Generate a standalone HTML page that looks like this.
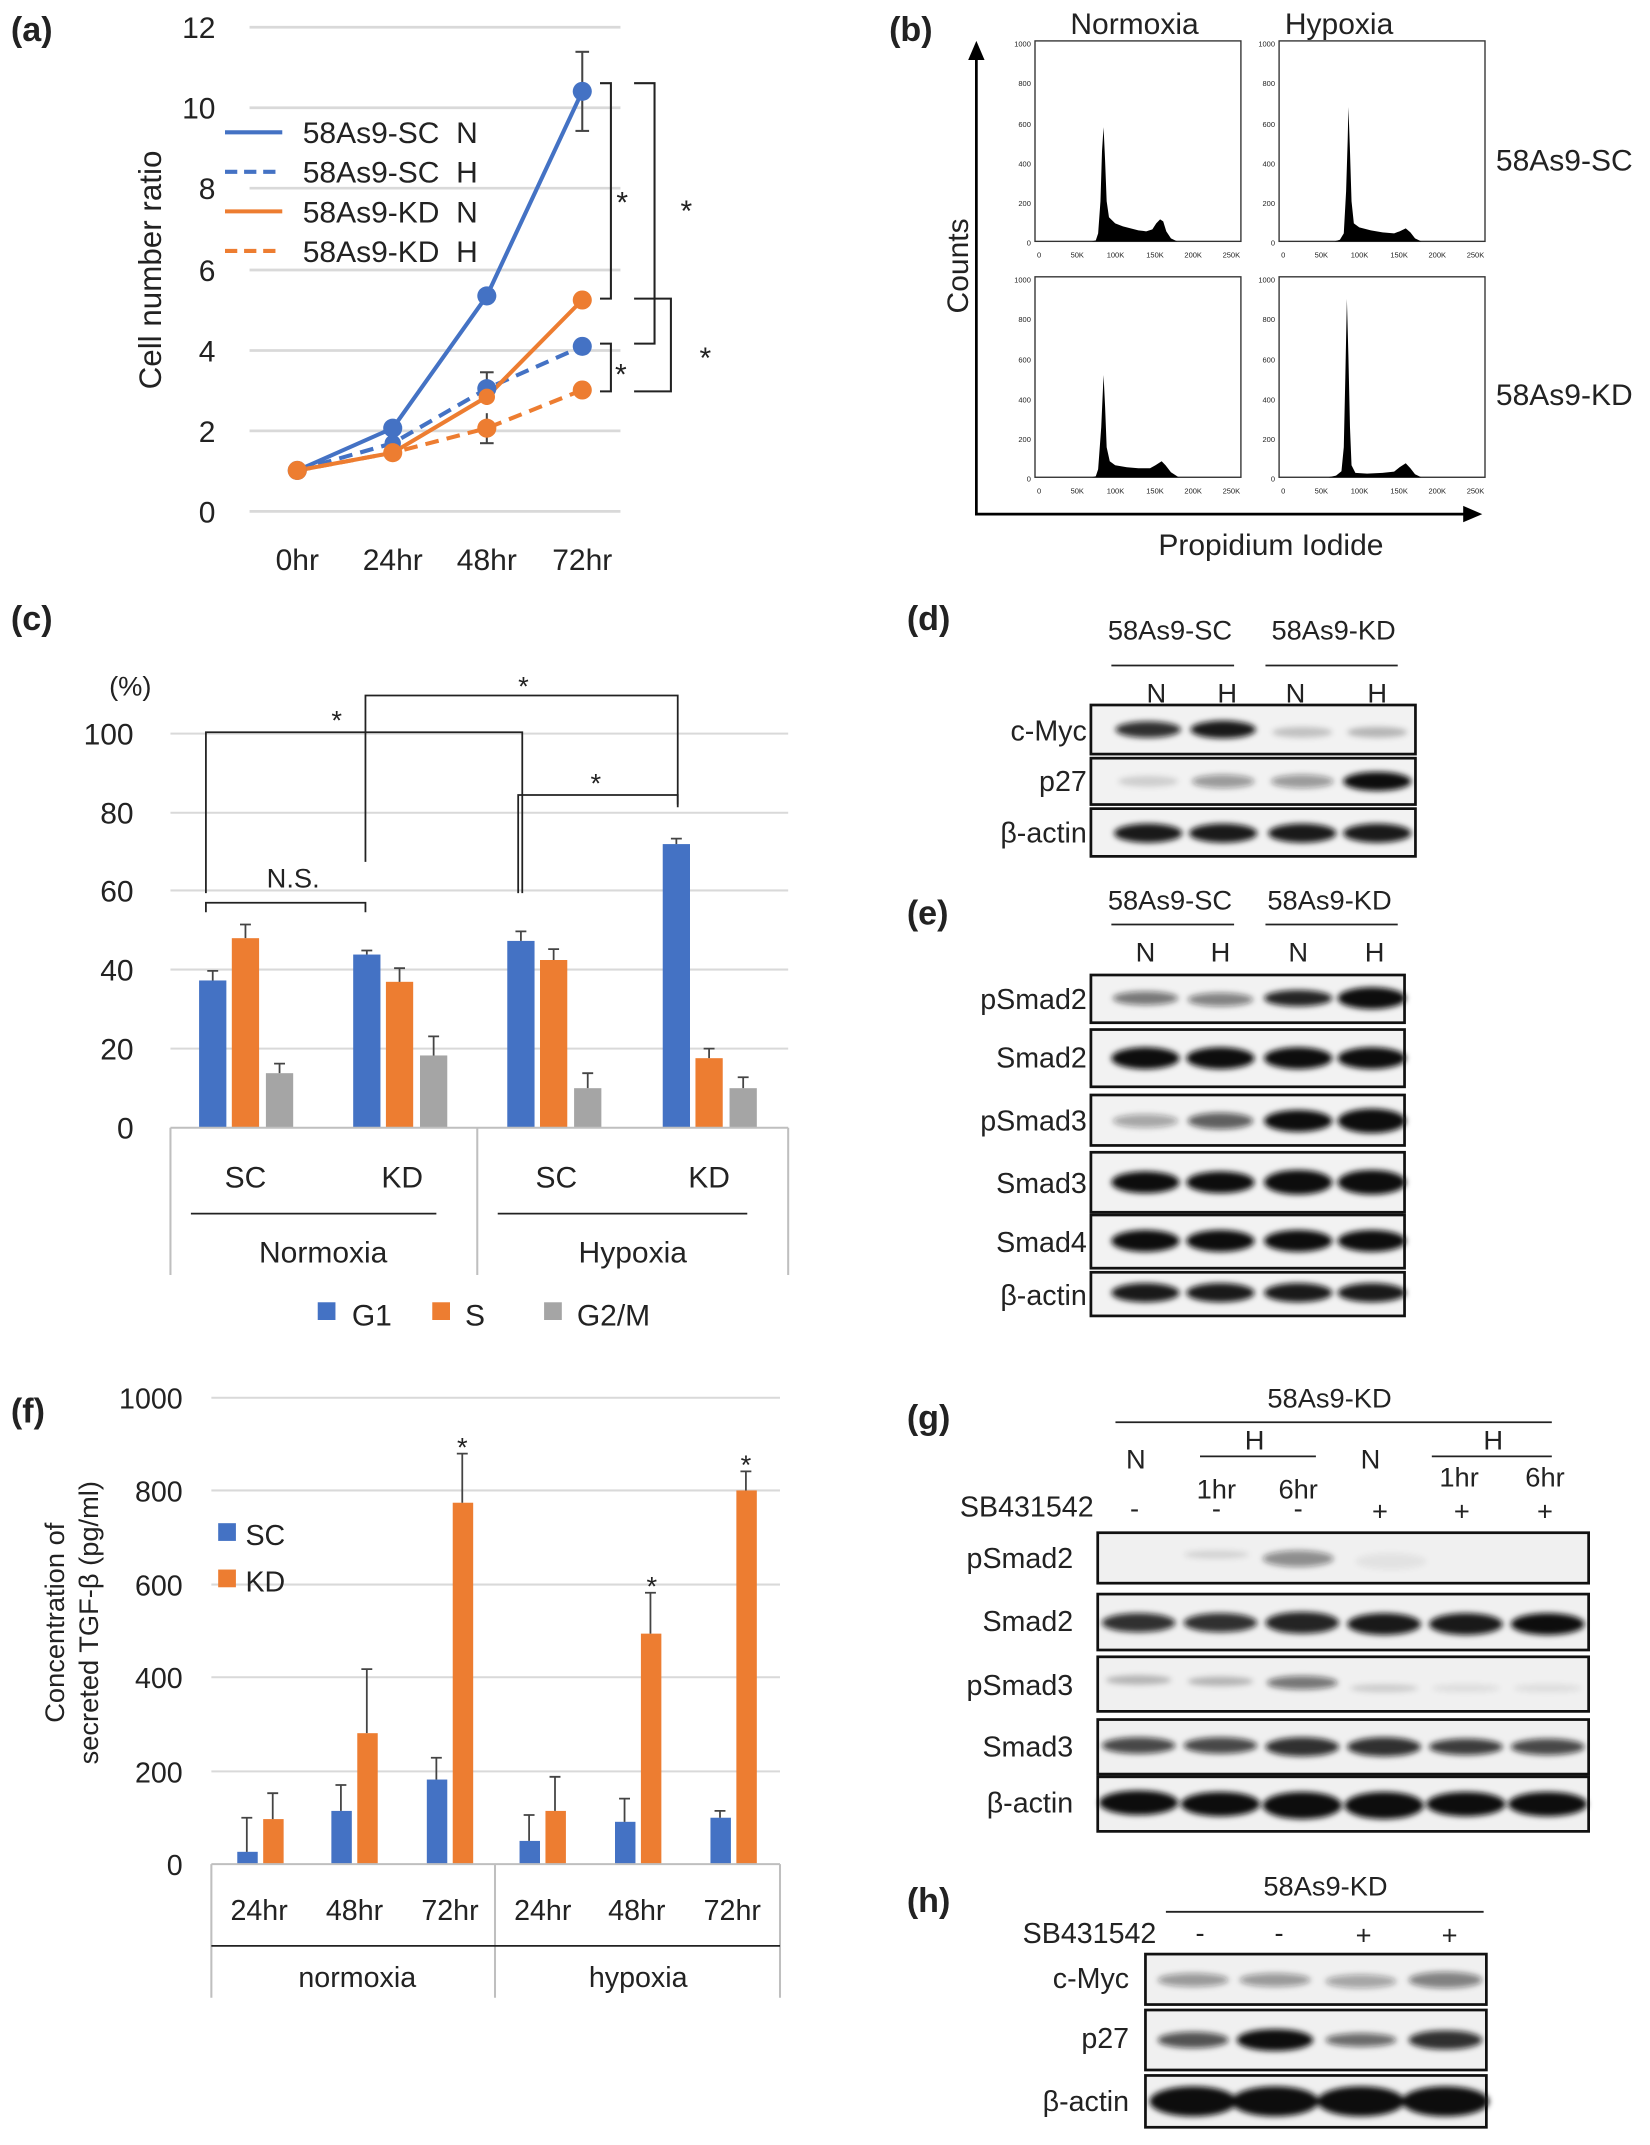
<!DOCTYPE html>
<html><head><meta charset="utf-8"><style>
html,body{margin:0;padding:0;background:#fff}
svg{display:block}
text{font-family:"Liberation Sans",sans-serif;fill:#222}
</style></head><body>
<svg width="1650" height="2145" viewBox="0 0 1210 1573" xmlns="http://www.w3.org/2000/svg">
<defs>
<filter id="bl" x="-20%" y="-50%" width="140%" height="200%"><feGaussianBlur stdDeviation="2.2"/></filter>
<path id="hSN" d="M70,0 L75,5 L78,40 L81,200 L83,450 L85,570 L87,400 L89,200 L92,120 L100,90 L110,75 L120,65 L130,55 L140,50 L148,60 L153,90 L158,110 L162,100 L166,50 L172,15 L180,0 Z"/>
<path id="hSH" d="M68,0 L75,8 L80,40 L83,250 L85,500 L86,670 L88,450 L90,200 L93,90 L100,70 L115,55 L130,45 L145,40 L152,50 L160,65 L166,45 L172,15 L180,0 Z"/>
<path id="hKN" d="M70,0 L75,5 L78,40 L82,250 L85,510 L87,350 L89,150 L93,80 L100,60 L115,50 L130,45 L145,45 L152,60 L160,80 L165,60 L172,25 L182,0 Z"/>
<path id="hKH" d="M60,0 L70,8 L77,30 L80,150 L82,500 L84,890 L86,600 L88,250 L90,60 L95,22 L110,18 L130,22 L145,28 L152,50 L160,70 L166,45 L172,15 L180,0 Z"/>
</defs>

<!-- ===== (a) ===== -->
<text x="8" y="30" font-size="25" font-weight="bold">(a)</text>
<g stroke="#d9d9d9" stroke-width="2">
<line x1="183" y1="20" x2="455" y2="20"/><line x1="183" y1="79" x2="455" y2="79"/><line x1="183" y1="138" x2="455" y2="138"/><line x1="183" y1="198" x2="455" y2="198"/><line x1="183" y1="257" x2="455" y2="257"/><line x1="183" y1="316" x2="455" y2="316"/><line x1="183" y1="375" x2="455" y2="375"/>
</g>
<g font-size="22" text-anchor="end">
<text x="158" y="28">12</text><text x="158" y="87">10</text><text x="158" y="146">8</text><text x="158" y="206">6</text><text x="158" y="265">4</text><text x="158" y="324">2</text><text x="158" y="383">0</text>
</g>
<g font-size="22" text-anchor="middle">
<text x="218" y="418">0hr</text><text x="288" y="418">24hr</text><text x="357" y="418">48hr</text><text x="427" y="418">72hr</text>
</g>
<text transform="translate(118,198) rotate(-90)" font-size="23" text-anchor="middle">Cell number ratio</text>
<g stroke-width="3" fill="none">
<polyline stroke="#4472c4" points="218,345 288,314 357,217 427,67"/>
<polyline stroke="#4472c4" stroke-dasharray="10,6" points="218,345 288,325 357,285 427,254"/>
<polyline stroke="#ed7d31" points="218,345 288,332 357,291 427,220"/>
<polyline stroke="#ed7d31" stroke-dasharray="10,6" points="218,345 288,332 357,314 427,286"/>
</g>
<g stroke="#444" stroke-width="1.5">
<line x1="427" y1="38" x2="427" y2="96"/><line x1="422" y1="38" x2="432" y2="38"/><line x1="422" y1="96" x2="432" y2="96"/>
<line x1="357" y1="273" x2="357" y2="297"/><line x1="352" y1="273" x2="362" y2="273"/>
<line x1="357" y1="303" x2="357" y2="325"/><line x1="352" y1="325" x2="362" y2="325"/>
<line x1="218" y1="340" x2="218" y2="351"/>
</g>
<g fill="#4472c4"><circle cx="218" cy="345" r="7"/><circle cx="288" cy="314" r="7"/><circle cx="357" cy="217" r="7"/><circle cx="427" cy="67" r="7"/><circle cx="288" cy="325" r="6"/><circle cx="357" cy="285" r="7"/><circle cx="427" cy="254" r="7"/></g>
<g fill="#ed7d31"><circle cx="288" cy="332" r="7"/><circle cx="357" cy="291" r="6"/><circle cx="427" cy="220" r="7"/><circle cx="357" cy="314" r="7"/><circle cx="427" cy="286" r="7"/><circle cx="218" cy="345" r="7"/></g>
<g stroke-width="3">
<line x1="165" y1="97" x2="207" y2="97" stroke="#4472c4"/>
<line x1="165" y1="126" x2="207" y2="126" stroke="#4472c4" stroke-dasharray="9,5"/>
<line x1="165" y1="155" x2="207" y2="155" stroke="#ed7d31"/>
<line x1="165" y1="184" x2="207" y2="184" stroke="#ed7d31" stroke-dasharray="9,5"/>
</g>
<g font-size="22"><text x="222" y="105">58As9-SC&#160;&#160;N</text><text x="222" y="134">58As9-SC&#160;&#160;H</text><text x="222" y="163">58As9-KD&#160;&#160;N</text><text x="222" y="192">58As9-KD&#160;&#160;H</text></g>
<g stroke="#222" stroke-width="1.5" fill="none">
<polyline points="440,61 448,61 448,219 440,219"/>
<polyline points="465,61 480,61 480,252 465,252"/>
<polyline points="440,252 448,252 448,287 440,287"/>
<polyline points="465,219 492,219 492,287 465,287"/>
</g>
<g font-size="22"><text x="452" y="156">*</text><text x="499" y="162">*</text><text x="451" y="282">*</text><text x="513" y="270">*</text></g>

<!-- ===== (b) ===== -->
<text x="652" y="30" font-size="25" font-weight="bold">(b)</text>
<text x="832" y="25" font-size="22" text-anchor="middle">Normoxia</text>
<text x="982" y="25" font-size="22" text-anchor="middle">Hypoxia</text>
<text x="1097" y="125" font-size="22">58As9-SC</text>
<text x="1097" y="297" font-size="22">58As9-KD</text>
<text x="932" y="407" font-size="22" text-anchor="middle">Propidium Iodide</text>
<text transform="translate(710,195) rotate(-90)" font-size="22" text-anchor="middle">Counts</text>
<g stroke="#000" stroke-width="2"><line x1="716" y1="378" x2="716" y2="42"/><line x1="716" y1="377" x2="1075" y2="377"/></g>
<polygon points="716,30 710,44 722,44" fill="#000"/><polygon points="1087,377 1073,371 1073,383" fill="#000"/>
<g fill="none" stroke="#333" stroke-width="1">
<rect x="759" y="30" width="151" height="147"/><rect x="938" y="30" width="151" height="147"/>
<rect x="759" y="203" width="151" height="147"/><rect x="938" y="203" width="151" height="147"/>
</g>
<use href="#hSN" transform="translate(761,177) scale(0.568,-0.147)"/>
<use href="#hSH" transform="translate(940,177) scale(0.568,-0.147)"/>
<use href="#hKN" transform="translate(761,350) scale(0.568,-0.147)"/>
<use href="#hKH" transform="translate(940,350) scale(0.568,-0.147)"/>
<g font-size="5.5" text-anchor="end" fill="#333">
<text x="756" y="34">1000</text><text x="756" y="63">800</text><text x="756" y="93">600</text><text x="756" y="122">400</text><text x="756" y="151">200</text><text x="756" y="180">0</text>
<text x="935" y="34">1000</text><text x="935" y="63">800</text><text x="935" y="93">600</text><text x="935" y="122">400</text><text x="935" y="151">200</text><text x="935" y="180">0</text>
<text x="756" y="207">1000</text><text x="756" y="236">800</text><text x="756" y="266">600</text><text x="756" y="295">400</text><text x="756" y="324">200</text><text x="756" y="353">0</text>
<text x="935" y="207">1000</text><text x="935" y="236">800</text><text x="935" y="266">600</text><text x="935" y="295">400</text><text x="935" y="324">200</text><text x="935" y="353">0</text>
</g>
<g font-size="5.5" text-anchor="middle" fill="#333">
<text x="762" y="189">0</text><text x="790" y="189">50K</text><text x="818" y="189">100K</text><text x="847" y="189">150K</text><text x="875" y="189">200K</text><text x="903" y="189">250K</text>
<text x="941" y="189">0</text><text x="969" y="189">50K</text><text x="997" y="189">100K</text><text x="1026" y="189">150K</text><text x="1054" y="189">200K</text><text x="1082" y="189">250K</text>
<text x="762" y="362">0</text><text x="790" y="362">50K</text><text x="818" y="362">100K</text><text x="847" y="362">150K</text><text x="875" y="362">200K</text><text x="903" y="362">250K</text>
<text x="941" y="362">0</text><text x="969" y="362">50K</text><text x="997" y="362">100K</text><text x="1026" y="362">150K</text><text x="1054" y="362">200K</text><text x="1082" y="362">250K</text>
</g>

<!-- ===== (c) ===== -->
<text x="8" y="462" font-size="25" font-weight="bold">(c)</text>
<text x="80" y="510" font-size="20">(%)</text>
<g stroke="#d9d9d9" stroke-width="1.5">
<line x1="125" y1="538" x2="578" y2="538"/><line x1="125" y1="596" x2="578" y2="596"/><line x1="125" y1="653" x2="578" y2="653"/><line x1="125" y1="711" x2="578" y2="711"/><line x1="125" y1="769" x2="578" y2="769"/>
</g>
<g font-size="22" text-anchor="end">
<text x="98" y="546">100</text><text x="98" y="604">80</text><text x="98" y="661">60</text><text x="98" y="719">40</text><text x="98" y="777">20</text><text x="98" y="835">0</text>
</g>
<g fill="#4472c4">
<rect x="146" y="719" width="20" height="108"/><rect x="259" y="700" width="20" height="127"/><rect x="372" y="690" width="20" height="137"/><rect x="486" y="619" width="20" height="208"/>
</g>
<g fill="#ed7d31">
<rect x="170" y="688" width="20" height="139"/><rect x="283" y="720" width="20" height="107"/><rect x="396" y="704" width="20" height="123"/><rect x="510" y="776" width="20" height="51"/>
</g>
<g fill="#a5a5a5">
<rect x="195" y="787" width="20" height="40"/><rect x="308" y="774" width="20" height="53"/><rect x="421" y="798" width="20" height="29"/><rect x="535" y="798" width="20" height="29"/>
</g>
<g stroke="#444" stroke-width="1.3">
<path d="M156,719V712M152,712H160 M180,688V678M176,678H184 M205,787V780M201,780H209 M269,700V697M265,697H273 M293,720V710M289,710H297 M318,774V760M314,760H322 M382,690V683M378,683H386 M406,704V696M402,696H410 M431,798V787M427,787H435 M496,619V615M492,615H500 M520,776V769M516,769H524 M545,798V790M541,790H549"/>
</g>
<line x1="125" y1="827" x2="578" y2="827" stroke="#bfbfbf" stroke-width="1.5"/>
<g stroke="#bfbfbf" stroke-width="1.5"><line x1="125" y1="827" x2="125" y2="935"/><line x1="350" y1="827" x2="350" y2="935"/><line x1="578" y1="827" x2="578" y2="935"/></g>
<g stroke="#222" stroke-width="1.3"><line x1="140" y1="890" x2="320" y2="890"/><line x1="365" y1="890" x2="548" y2="890"/></g>
<g font-size="22" text-anchor="middle">
<text x="180" y="871">SC</text><text x="295" y="871">KD</text><text x="408" y="871">SC</text><text x="520" y="871">KD</text>
<text x="237" y="926">Normoxia</text><text x="464" y="926">Hypoxia</text>
</g>
<rect x="233" y="955" width="13" height="13" fill="#4472c4"/><text x="258" y="972" font-size="22">G1</text>
<rect x="317" y="955" width="13" height="13" fill="#ed7d31"/><text x="341" y="972" font-size="22">S</text>
<rect x="399" y="955" width="13" height="13" fill="#a5a5a5"/><text x="423" y="972" font-size="22">G2/M</text>
<g stroke="#222" stroke-width="1.3" fill="none">
<polyline points="151,669 151,662 268,662 268,669"/>
<polyline points="151,655 151,537 383,537 383,655"/>
<polyline points="268,632 268,510 497,510 497,590"/>
<polyline points="380,655 380,583 497,583 497,592"/>
</g>
<text x="215" y="651" font-size="20" text-anchor="middle">N.S.</text>
<g font-size="20"><text x="243" y="535">*</text><text x="380" y="510">*</text><text x="433" y="581">*</text></g>

<!-- ===== (d) ===== -->
<text x="665" y="462" font-size="25" font-weight="bold">(d)</text>
<g font-size="20" text-anchor="middle"><text x="858" y="469">58As9-SC</text><text x="978" y="469">58As9-KD</text>
<text x="848" y="515">N</text><text x="900" y="515">H</text><text x="950" y="515">N</text><text x="1010" y="515">H</text></g>
<g stroke="#222" stroke-width="1.3"><line x1="815" y1="488" x2="905" y2="488"/><line x1="928" y1="488" x2="1025" y2="488"/></g>
<g font-size="21" text-anchor="end"><text x="797" y="543">c-Myc</text><text x="797" y="580">p27</text><text x="797" y="618">β-actin</text></g>
<g fill="#f2f2f2" stroke="#111" stroke-width="2"><rect x="800" y="517" width="238" height="36"/><rect x="800" y="556" width="238" height="34"/><rect x="800" y="593" width="238" height="35"/></g>
<g filter="url(#bl)" fill="#111">
<ellipse cx="842" cy="535" rx="24" ry="6" opacity="0.85"/><ellipse cx="897" cy="535" rx="24" ry="6.5" opacity="0.95"/><ellipse cx="955" cy="537" rx="22" ry="4" opacity="0.2"/><ellipse cx="1010" cy="537" rx="22" ry="4" opacity="0.25"/>
<ellipse cx="842" cy="573" rx="22" ry="4" opacity="0.15"/><ellipse cx="897" cy="573" rx="23" ry="5" opacity="0.4"/><ellipse cx="955" cy="573" rx="23" ry="5" opacity="0.4"/><ellipse cx="1010" cy="573" rx="25" ry="7" opacity="1"/>
<ellipse cx="842" cy="611" rx="25" ry="7" opacity="0.95"/><ellipse cx="897" cy="611" rx="25" ry="7" opacity="0.95"/><ellipse cx="955" cy="611" rx="25" ry="7" opacity="0.95"/><ellipse cx="1010" cy="611" rx="25" ry="7" opacity="0.95"/>
</g>

<!-- ===== (e) ===== -->
<text x="665" y="678" font-size="25" font-weight="bold">(e)</text>
<g font-size="20" text-anchor="middle"><text x="858" y="667">58As9-SC</text><text x="975" y="667">58As9-KD</text>
<text x="840" y="705">N</text><text x="895" y="705">H</text><text x="952" y="705">N</text><text x="1008" y="705">H</text></g>
<g stroke="#222" stroke-width="1.3"><line x1="815" y1="678" x2="905" y2="678"/><line x1="928" y1="678" x2="1025" y2="678"/></g>
<g font-size="21" text-anchor="end"><text x="797" y="740">pSmad2</text><text x="797" y="783">Smad2</text><text x="797" y="829">pSmad3</text><text x="797" y="875">Smad3</text><text x="797" y="918">Smad4</text><text x="797" y="957">β-actin</text></g>
<g fill="#f2f2f2" stroke="#111" stroke-width="2"><rect x="800" y="715" width="230" height="35"/><rect x="800" y="755" width="230" height="42"/><rect x="800" y="803" width="230" height="37"/><rect x="800" y="845" width="230" height="44"/><rect x="800" y="891" width="230" height="39"/><rect x="800" y="933" width="230" height="32"/></g>
<g filter="url(#bl)" fill="#111">
<ellipse cx="840" cy="732" rx="24" ry="5" opacity="0.55"/><ellipse cx="895" cy="733" rx="24" ry="5" opacity="0.5"/><ellipse cx="952" cy="732" rx="25" ry="6" opacity="0.9"/><ellipse cx="1006" cy="732" rx="25" ry="8" opacity="1"/>
<ellipse cx="840" cy="776" rx="25" ry="8" opacity="1"/><ellipse cx="895" cy="776" rx="25" ry="8" opacity="1"/><ellipse cx="952" cy="776" rx="25" ry="8" opacity="1"/><ellipse cx="1006" cy="776" rx="25" ry="8" opacity="1"/>
<ellipse cx="840" cy="822" rx="24" ry="5" opacity="0.35"/><ellipse cx="895" cy="822" rx="24" ry="6" opacity="0.65"/><ellipse cx="952" cy="822" rx="25" ry="8" opacity="1"/><ellipse cx="1006" cy="822" rx="25" ry="9" opacity="1"/>
<ellipse cx="840" cy="867" rx="25" ry="8" opacity="1"/><ellipse cx="895" cy="867" rx="25" ry="8" opacity="1"/><ellipse cx="952" cy="867" rx="25" ry="9" opacity="1"/><ellipse cx="1006" cy="867" rx="25" ry="9" opacity="1"/>
<ellipse cx="840" cy="910" rx="25" ry="8" opacity="1"/><ellipse cx="895" cy="910" rx="25" ry="8" opacity="1"/><ellipse cx="952" cy="910" rx="25" ry="8" opacity="1"/><ellipse cx="1006" cy="910" rx="25" ry="8" opacity="1"/>
<ellipse cx="840" cy="948" rx="25" ry="7" opacity="0.95"/><ellipse cx="895" cy="948" rx="25" ry="7" opacity="0.95"/><ellipse cx="952" cy="948" rx="25" ry="7" opacity="0.95"/><ellipse cx="1006" cy="948" rx="25" ry="7" opacity="0.95"/>
</g>

<!-- ===== (f) ===== -->
<text x="8" y="1043" font-size="25" font-weight="bold">(f)</text>
<g stroke="#d9d9d9" stroke-width="1.5">
<line x1="155" y1="1025" x2="572" y2="1025"/><line x1="155" y1="1093" x2="572" y2="1093"/><line x1="155" y1="1162" x2="572" y2="1162"/><line x1="155" y1="1230" x2="572" y2="1230"/><line x1="155" y1="1299" x2="572" y2="1299"/>
</g>
<g font-size="21" text-anchor="end">
<text x="134" y="1033">1000</text><text x="134" y="1101">800</text><text x="134" y="1170">600</text><text x="134" y="1238">400</text><text x="134" y="1307">200</text><text x="134" y="1375">0</text>
</g>
<text transform="translate(47,1190) rotate(-90)" font-size="20" text-anchor="middle">Concentration of</text>
<text transform="translate(72,1190) rotate(-90)" font-size="20" text-anchor="middle">secreted TGF-β (pg/ml)</text>
<g fill="#4472c4">
<rect x="174" y="1358" width="15" height="9"/><rect x="243" y="1328" width="15" height="39"/><rect x="313" y="1305" width="15" height="62"/><rect x="381" y="1350" width="15" height="17"/><rect x="451" y="1336" width="15" height="31"/><rect x="521" y="1333" width="15" height="34"/>
</g>
<g fill="#ed7d31">
<rect x="193" y="1334" width="15" height="33"/><rect x="262" y="1271" width="15" height="96"/><rect x="332" y="1102" width="15" height="265"/><rect x="400" y="1328" width="15" height="39"/><rect x="470" y="1198" width="15" height="169"/><rect x="540" y="1093" width="15" height="274"/>
</g>
<g stroke="#444" stroke-width="1.3">
<path d="M181,1358V1333M177,1333H185 M200,1334V1315M196,1315H204 M250,1328V1309M246,1309H254 M269,1271V1224M265,1224H273 M320,1305V1289M316,1289H324 M339,1102V1066M335,1066H343 M388,1350V1331M384,1331H392 M407,1328V1303M403,1303H411 M458,1336V1319M454,1319H462 M477,1198V1168M473,1168H481 M528,1333V1328M524,1328H532 M547,1093V1079M543,1079H551"/>
</g>
<g font-size="20" text-anchor="middle"><text x="339" y="1068">*</text><text x="478" y="1170">*</text><text x="547" y="1081">*</text></g>
<line x1="155" y1="1367" x2="572" y2="1367" stroke="#bfbfbf" stroke-width="1.5"/>
<g stroke="#bfbfbf" stroke-width="1.5"><line x1="155" y1="1367" x2="155" y2="1465"/><line x1="363" y1="1367" x2="363" y2="1465"/><line x1="572" y1="1367" x2="572" y2="1465"/></g>
<g stroke="#222" stroke-width="1.3"><line x1="155" y1="1427" x2="363" y2="1427"/><line x1="363" y1="1427" x2="572" y2="1427"/></g>
<g font-size="21" text-anchor="middle">
<text x="190" y="1408">24hr</text><text x="260" y="1408">48hr</text><text x="330" y="1408">72hr</text><text x="398" y="1408">24hr</text><text x="467" y="1408">48hr</text><text x="537" y="1408">72hr</text>
<text x="262" y="1457">normoxia</text><text x="468" y="1457">hypoxia</text>
</g>
<rect x="160" y="1117" width="13" height="13" fill="#4472c4"/><text x="180" y="1133" font-size="21">SC</text>
<rect x="160" y="1151" width="13" height="13" fill="#ed7d31"/><text x="180" y="1167" font-size="21">KD</text>

<!-- ===== (g) ===== -->
<text x="665" y="1048" font-size="25" font-weight="bold">(g)</text>
<text x="975" y="1032" font-size="20" text-anchor="middle">58As9-KD</text>
<g stroke="#222" stroke-width="1.3"><line x1="818" y1="1043" x2="1138" y2="1043"/><line x1="880" y1="1068" x2="965" y2="1068"/><line x1="1050" y1="1068" x2="1138" y2="1068"/></g>
<g font-size="20" text-anchor="middle">
<text x="833" y="1077">N</text><text x="920" y="1063">H</text><text x="1005" y="1077">N</text><text x="1095" y="1063">H</text>
<text x="892" y="1099">1hr</text><text x="952" y="1099">6hr</text><text x="1070" y="1090">1hr</text><text x="1133" y="1090">6hr</text>
<text x="832" y="1113">-</text><text x="892" y="1113">-</text><text x="952" y="1113">-</text><text x="1012" y="1115">+</text><text x="1072" y="1115">+</text><text x="1133" y="1115">+</text>
</g>
<text x="802" y="1112" font-size="21" text-anchor="end">SB431542</text>
<g font-size="21" text-anchor="end"><text x="787" y="1150">pSmad2</text><text x="787" y="1196">Smad2</text><text x="787" y="1243">pSmad3</text><text x="787" y="1288">Smad3</text><text x="787" y="1329">β-actin</text></g>
<g fill="#f0f0f0" stroke="#111" stroke-width="2"><rect x="805" y="1124" width="360" height="37"/><rect x="805" y="1169" width="360" height="41"/><rect x="805" y="1215" width="360" height="40"/><rect x="805" y="1261" width="360" height="40"/><rect x="805" y="1303" width="360" height="40"/></g>
<g filter="url(#bl)" fill="#111">
<ellipse cx="892" cy="1140" rx="24" ry="3" opacity="0.12"/><ellipse cx="952" cy="1143" rx="26" ry="6" opacity="0.45"/><ellipse cx="1020" cy="1145" rx="26" ry="6" opacity="0.06"/>
<ellipse cx="835" cy="1190" rx="27" ry="7" opacity="0.85"/><ellipse cx="895" cy="1190" rx="27" ry="7" opacity="0.85"/><ellipse cx="955" cy="1190" rx="27" ry="8" opacity="0.9"/><ellipse cx="1015" cy="1191" rx="27" ry="8" opacity="0.95"/><ellipse cx="1075" cy="1191" rx="27" ry="8" opacity="0.95"/><ellipse cx="1135" cy="1191" rx="27" ry="8" opacity="1"/>
<ellipse cx="835" cy="1232" rx="24" ry="3.5" opacity="0.25"/><ellipse cx="895" cy="1233" rx="24" ry="3.5" opacity="0.25"/><ellipse cx="955" cy="1234" rx="26" ry="5" opacity="0.55"/><ellipse cx="1015" cy="1238" rx="25" ry="3" opacity="0.15"/><ellipse cx="1075" cy="1238" rx="25" ry="3" opacity="0.08"/><ellipse cx="1135" cy="1238" rx="25" ry="3" opacity="0.08"/>
<ellipse cx="835" cy="1280" rx="27" ry="6" opacity="0.75"/><ellipse cx="895" cy="1280" rx="27" ry="6" opacity="0.75"/><ellipse cx="955" cy="1281" rx="27" ry="7" opacity="0.85"/><ellipse cx="1015" cy="1281" rx="27" ry="7" opacity="0.85"/><ellipse cx="1075" cy="1281" rx="27" ry="6" opacity="0.8"/><ellipse cx="1135" cy="1281" rx="27" ry="6" opacity="0.75"/>
<ellipse cx="835" cy="1322" rx="29" ry="9" opacity="1"/><ellipse cx="895" cy="1323" rx="29" ry="9" opacity="1"/><ellipse cx="955" cy="1324" rx="29" ry="10" opacity="1"/><ellipse cx="1015" cy="1324" rx="29" ry="10" opacity="1"/><ellipse cx="1075" cy="1323" rx="29" ry="9" opacity="1"/><ellipse cx="1135" cy="1323" rx="29" ry="9" opacity="1"/>
</g>

<!-- ===== (h) ===== -->
<text x="665" y="1402" font-size="25" font-weight="bold">(h)</text>
<text x="972" y="1390" font-size="20" text-anchor="middle">58As9-KD</text>
<line x1="855" y1="1402" x2="1088" y2="1402" stroke="#222" stroke-width="1.3"/>
<text x="848" y="1425" font-size="21" text-anchor="end">SB431542</text>
<g font-size="20" text-anchor="middle"><text x="880" y="1424">-</text><text x="938" y="1424">-</text><text x="1000" y="1426">+</text><text x="1063" y="1426">+</text></g>
<g font-size="21" text-anchor="end"><text x="828" y="1458">c-Myc</text><text x="828" y="1502">p27</text><text x="828" y="1548">β-actin</text></g>
<g fill="#f0f0f0" stroke="#111" stroke-width="2"><rect x="840" y="1433" width="250" height="37"/><rect x="840" y="1474" width="250" height="44"/><rect x="840" y="1522" width="250" height="38"/></g>
<g filter="url(#bl)" fill="#111">
<ellipse cx="875" cy="1452" rx="26" ry="5" opacity="0.4"/><ellipse cx="935" cy="1452" rx="26" ry="5" opacity="0.4"/><ellipse cx="998" cy="1453" rx="26" ry="5" opacity="0.35"/><ellipse cx="1060" cy="1452" rx="27" ry="6" opacity="0.5"/>
<ellipse cx="875" cy="1496" rx="26" ry="6" opacity="0.7"/><ellipse cx="935" cy="1496" rx="28" ry="8" opacity="1"/><ellipse cx="998" cy="1496" rx="26" ry="5" opacity="0.6"/><ellipse cx="1060" cy="1496" rx="27" ry="7" opacity="0.85"/>
<ellipse cx="875" cy="1541" rx="32" ry="11" opacity="1"/><ellipse cx="935" cy="1541" rx="32" ry="11" opacity="1"/><ellipse cx="998" cy="1541" rx="32" ry="11" opacity="1"/><ellipse cx="1060" cy="1541" rx="32" ry="11" opacity="1"/>
</g>
</svg>
</body></html>
